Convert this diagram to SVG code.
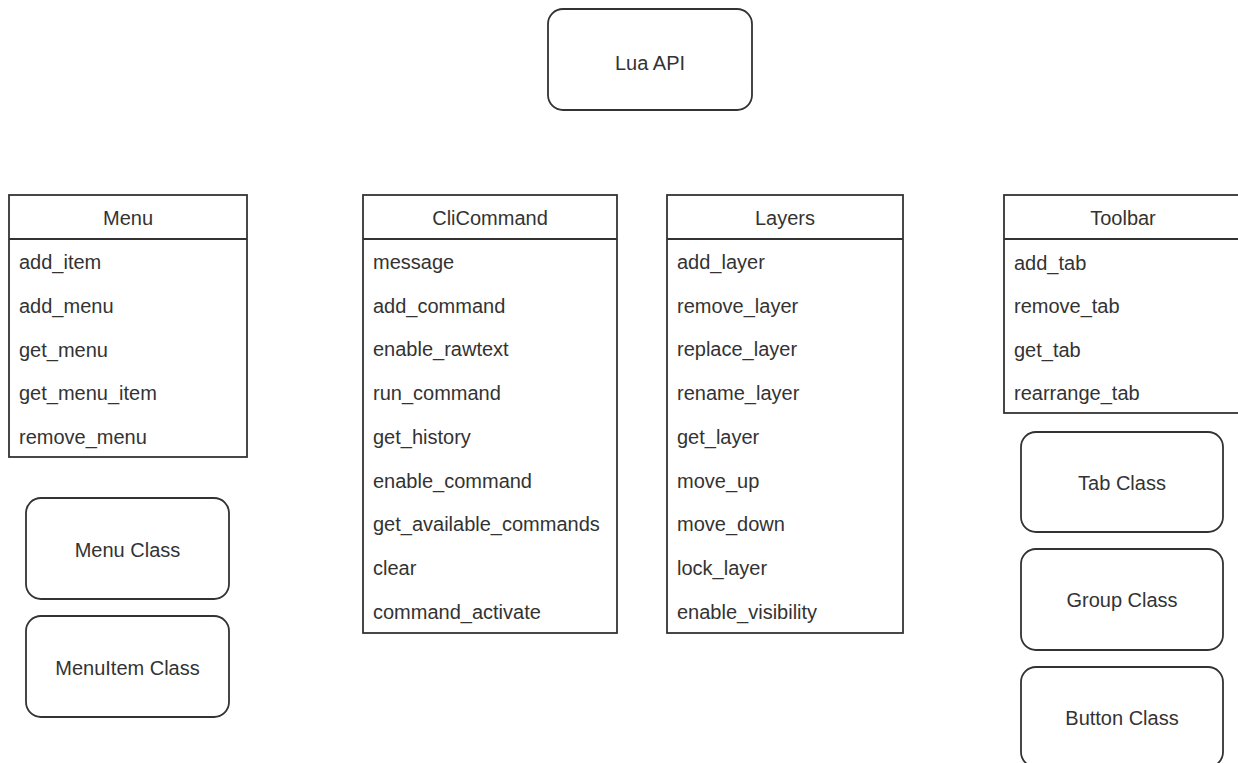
<svg xmlns="http://www.w3.org/2000/svg" width="1238" height="763" viewBox="0 0 1238 763">
<style>
  .box { fill: #ffffff; stroke: #333333; stroke-width: 1.8; }
  .rbox { fill: #ffffff; stroke: #333333; stroke-width: 1.8; }
  .line { stroke: #333333; stroke-width: 1.8; fill: none; }
  text { font-family: "Liberation Sans", Arial, sans-serif; font-size: 20px; fill: #333333; }
  .c { text-anchor: middle; }
</style>
<rect x="0" y="0" width="1238" height="763" fill="#ffffff"/>
<g id="connectors"/>

<g id="lua-api">
  <rect class="rbox" x="548" y="9" width="204" height="101" rx="15" ry="15"/>
  <text class="c" x="650" y="70">Lua API</text>
</g>

<g id="menu">
  <rect class="box" x="9" y="195" width="238" height="262"/>
  <line class="line" x1="9" y1="239" x2="247" y2="239"/>
  <text class="c" x="128" y="225">Menu</text>
  <text x="19" y="269">add_item</text>
  <text x="19" y="313">add_menu</text>
  <text x="19" y="357">get_menu</text>
  <text x="19" y="400">get_menu_item</text>
  <text x="19" y="444">remove_menu</text>
</g>

<g id="menu-class">
  <rect class="rbox" x="26" y="498" width="203" height="101" rx="15" ry="15"/>
  <text class="c" x="127.5" y="557">Menu Class</text>
</g>

<g id="menuitem-class">
  <rect class="rbox" x="26" y="616" width="203" height="101" rx="15" ry="15"/>
  <text class="c" x="127.5" y="675">MenuItem Class</text>
</g>

<g id="clicommand">
  <rect class="box" x="363" y="195" width="254" height="438"/>
  <line class="line" x1="363" y1="239" x2="617" y2="239"/>
  <text class="c" x="490" y="225">CliCommand</text>
  <text x="373" y="269">message</text>
  <text x="373" y="313">add_command</text>
  <text x="373" y="356">enable_rawtext</text>
  <text x="373" y="400">run_command</text>
  <text x="373" y="444">get_history</text>
  <text x="373" y="488">enable_command</text>
  <text x="373" y="531">get_available_commands</text>
  <text x="373" y="575">clear</text>
  <text x="373" y="619">command_activate</text>
</g>

<g id="layers">
  <rect class="box" x="667" y="195" width="236" height="438"/>
  <line class="line" x1="667" y1="239" x2="903" y2="239"/>
  <text class="c" x="785" y="225">Layers</text>
  <text x="677" y="269">add_layer</text>
  <text x="677" y="313">remove_layer</text>
  <text x="677" y="356">replace_layer</text>
  <text x="677" y="400">rename_layer</text>
  <text x="677" y="444">get_layer</text>
  <text x="677" y="488">move_up</text>
  <text x="677" y="531">move_down</text>
  <text x="677" y="575">lock_layer</text>
  <text x="677" y="619">enable_visibility</text>
</g>

<g id="toolbar">
  <rect class="box" x="1004" y="195" width="238" height="218"/>
  <line class="line" x1="1004" y1="239" x2="1242" y2="239"/>
  <text class="c" x="1123" y="225">Toolbar</text>
  <text x="1014" y="270">add_tab</text>
  <text x="1014" y="313">remove_tab</text>
  <text x="1014" y="357">get_tab</text>
  <text x="1014" y="400">rearrange_tab</text>
</g>

<g id="tab-class">
  <rect class="rbox" x="1021" y="432" width="202" height="100" rx="15" ry="15"/>
  <text class="c" x="1122" y="490">Tab Class</text>
</g>

<g id="group-class">
  <rect class="rbox" x="1021" y="549" width="202" height="101" rx="15" ry="15"/>
  <text class="c" x="1122" y="607">Group Class</text>
</g>

<g id="button-class">
  <rect class="rbox" x="1021" y="667" width="202" height="100" rx="15" ry="15"/>
  <text class="c" x="1122" y="725">Button Class</text>
</g>
</svg>
